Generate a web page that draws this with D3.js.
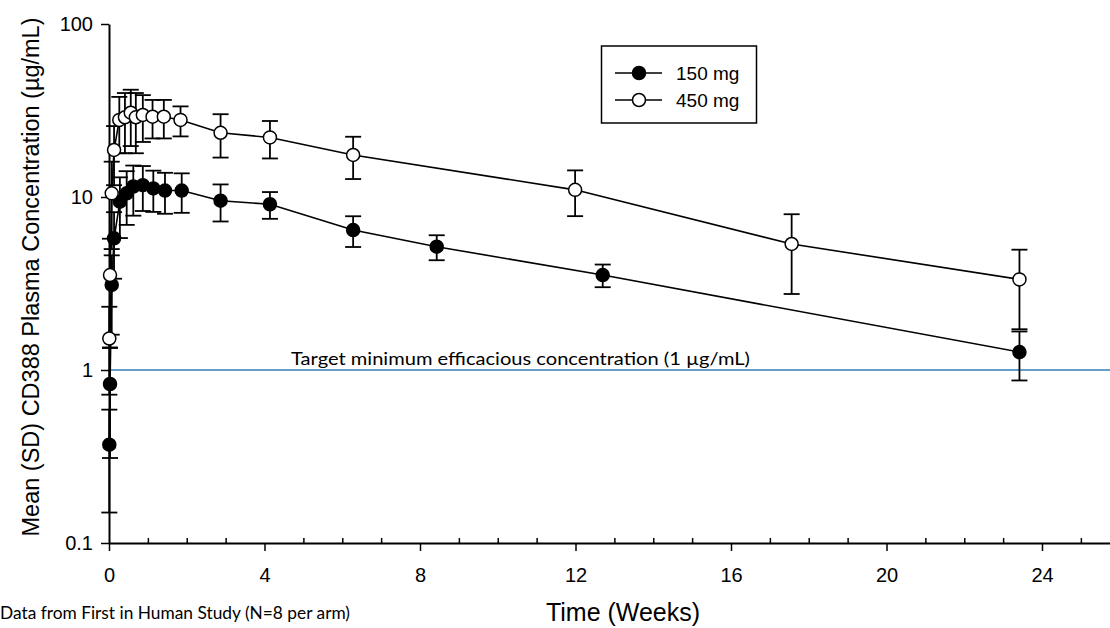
<!DOCTYPE html>
<html>
<head>
<meta charset="utf-8">
<script src="https://cdn.jsdelivr.net/npm/d3@7"></script>
<style>
  html, body { margin: 0; padding: 0; background: #fff; }
  svg { display: block; }
</style>
</head>
<body>
<svg id="chart" width="1110" height="628"></svg>
<script>
// ---- data ----
const seriesNames = ["150 mg", "450 mg"];
const times150 = [0.008, 0.026, 0.07, 0.13, 0.28, 0.455, 0.625, 0.87, 1.14, 1.44, 1.87, 2.87, 4.14, 6.28, 8.43, 12.7, 23.42];
const mean150  = [0.37, 0.83, 3.10, 5.77, 9.39, 10.5, 11.5, 11.7, 11.2, 10.9, 10.9, 9.52, 9.08, 6.44, 5.16, 3.54, 1.27];
const sd150    = [0.22, 0.52, 1.50, 2.40, 3.60, 3.60, 3.70, 3.40, 3.00, 2.90, 2.80, 2.30, 1.60, 1.30, 0.85, 0.53, 0.40];
const times450 = [0.008, 0.026, 0.07, 0.13, 0.265, 0.41, 0.56, 0.69, 0.87, 1.12, 1.41, 1.84, 2.87, 4.14, 6.28, 11.99, 17.56, 23.42];
const mean450  = [1.52, 3.54, 10.5, 18.7, 27.9, 28.9, 30.7, 28.9, 29.8, 29.1, 29.1, 27.9, 23.5, 22.1, 17.5, 11.0, 5.35, 3.34];
const sd450    = [0.80, 2.20, 5.50, 7.00, 10.0, 11.0, 11.0, 11.0, 9.00, 7.30, 7.30, 5.50, 6.60, 5.40, 4.80, 3.25, 2.60, 1.62];
const xMajorTicks = [0, 4, 8, 12, 16, 20, 24];
const xMinorTicks = [1,2,3,5,6,7,9,10,11,13,14,15,17,18,19,21,22,23,25];
const yTicks = [0.1, 1, 10, 100];
const yTickLabels = ["0.1", "1", "10", "100"];
const targetValue = 1;
const targetLabel = "Target minimum efficacious concentration (1 \u00b5g/mL)";
const xTitle = "Time (Weeks)";
const yTitle = "Mean (SD) CD388 Plasma Concentration (\u00b5g/mL)";
const footnote = "Data from First in Human Study (N=8 per arm)";

// ---- layout ----
const svg = d3.select("#chart");
const X0 = 109, X1 = 1110, YTOP = 24, YBOT = 543;
const x = d3.scaleLinear().domain([0, (X1 - X0) / 38.875]).range([X0, X1]);
const y = d3.scaleLog().domain([0.1, 100]).range([YBOT, YTOP]);

const arial = "'Liberation Sans', Arial, sans-serif";
const calibri = "Lato, 'Open Sans', sans-serif";

const series = [
  { name: seriesNames[0], t: times150, m: mean150, s: sd150, fill: "#000" },
  { name: seriesNames[1], t: times450, m: mean450, s: sd450, fill: "#fff" }
];

// target line
svg.append("line")
  .attr("x1", X0).attr("x2", X1)
  .attr("y1", y(targetValue)).attr("y2", y(targetValue))
  .attr("stroke", "#2f7fb8").attr("stroke-width", 1.6);
svg.append("text")
  .attr("x", 291).attr("y", y(targetValue) - 5)
  .attr("font-family", calibri).attr("font-size", 17.5)
  .attr("textLength", 459).attr("lengthAdjust", "spacingAndGlyphs")
  .text(targetLabel);

// axes
const yAxis = d3.axisLeft(y).tickValues(yTicks)
  .tickFormat((d, i) => yTickLabels[i]).tickSize(8).tickSizeOuter(0).tickPadding(8);
const gy = svg.append("g").attr("transform", `translate(${X0},0)`).call(yAxis);
gy.select(".domain").attr("stroke-width", 2);
gy.selectAll(".tick line").attr("stroke-width", 1.5);
gy.selectAll(".tick text").attr("font-family", arial).attr("font-size", 20).attr("fill", "#000");

const xAxis = d3.axisBottom(x).tickValues(xMajorTicks).tickSize(8).tickSizeOuter(0).tickPadding(17);
const gx = svg.append("g").attr("transform", `translate(0,${YBOT})`).call(xAxis);
gx.select(".domain").attr("stroke-width", 2);
gx.selectAll(".tick line").attr("stroke-width", 1.5);
gx.selectAll(".tick text").attr("font-family", arial).attr("font-size", 20).attr("fill", "#000");

const xMinor = d3.axisTop(x).tickValues(xMinorTicks).tickSize(5).tickSizeOuter(0).tickFormat("");
const gxm = svg.append("g").attr("transform", `translate(0,${YBOT})`).call(xMinor);
gxm.select(".domain").remove();
gxm.selectAll(".tick line").attr("stroke-width", 1.5);

// titles
svg.append("text").attr("x", 623).attr("y", 621).attr("text-anchor", "middle")
  .attr("font-family", arial).attr("font-size", 25).text(xTitle);
svg.append("text").attr("transform", `translate(39,277) rotate(-90)`).attr("text-anchor", "middle")
  .attr("font-family", arial).attr("font-size", 23.5).text(yTitle);
svg.append("text").attr("x", 0).attr("y", 619)
  .attr("font-family", calibri).attr("font-size", 18)
  .attr("textLength", 350).attr("lengthAdjust", "spacingAndGlyphs")
  .text(footnote);

// data
const capW = 8;
const line = d3.line().x(d => x(d.t)).y(d => y(d.m));
series.forEach(s => {
  const pts = s.t.map((t, i) => ({ t, m: s.m[i], sd: s.s[i] }));
  const g = svg.append("g");
  const eb = g.selectAll("g.eb").data(pts).enter().append("g")
    .attr("stroke", "#000").attr("stroke-width", 1.8);
  eb.append("line").attr("x1", d => x(d.t)).attr("x2", d => x(d.t))
    .attr("y1", d => y(d.m + d.sd)).attr("y2", d => y(Math.max(0.1, d.m - d.sd)));
  eb.append("line").attr("x1", d => x(d.t) - capW).attr("x2", d => x(d.t) + capW)
    .attr("y1", d => y(d.m + d.sd)).attr("y2", d => y(d.m + d.sd));
  eb.append("line").attr("x1", d => x(d.t) - capW).attr("x2", d => x(d.t) + capW)
    .attr("y1", d => y(Math.max(0.1, d.m - d.sd))).attr("y2", d => y(Math.max(0.1, d.m - d.sd)));
  s.pts = pts;
});
series.forEach(s => {
  svg.append("path").datum(s.pts).attr("d", line)
    .attr("fill", "none").attr("stroke", "#000").attr("stroke-width", 1.6);
});
series.forEach(s => {
  svg.append("g").selectAll("circle").data(s.pts).enter().append("circle")
    .attr("cx", d => x(d.t)).attr("cy", d => y(d.m)).attr("r", 6.5)
    .attr("fill", s.fill).attr("stroke", "#000").attr("stroke-width", 1.5);
});

// legend
const lg = svg.append("g");
lg.append("rect").attr("x", 601.5).attr("y", 46).attr("width", 155).attr("height", 77)
  .attr("fill", "#fff").attr("stroke", "#000").attr("stroke-width", 1.5);
series.forEach((s, i) => {
  const ly = 73 + i * 27;
  lg.append("line").attr("x1", 615).attr("x2", 662).attr("y1", ly).attr("y2", ly)
    .attr("stroke", "#000").attr("stroke-width", 1.6);
  lg.append("circle").attr("cx", 639).attr("cy", ly).attr("r", 6.5)
    .attr("fill", s.fill).attr("stroke", "#000").attr("stroke-width", 1.5);
  lg.append("text").attr("x", 676).attr("y", ly + 7)
    .attr("font-family", arial).attr("font-size", 19).text(s.name);
});
</script>
</body>
</html>
